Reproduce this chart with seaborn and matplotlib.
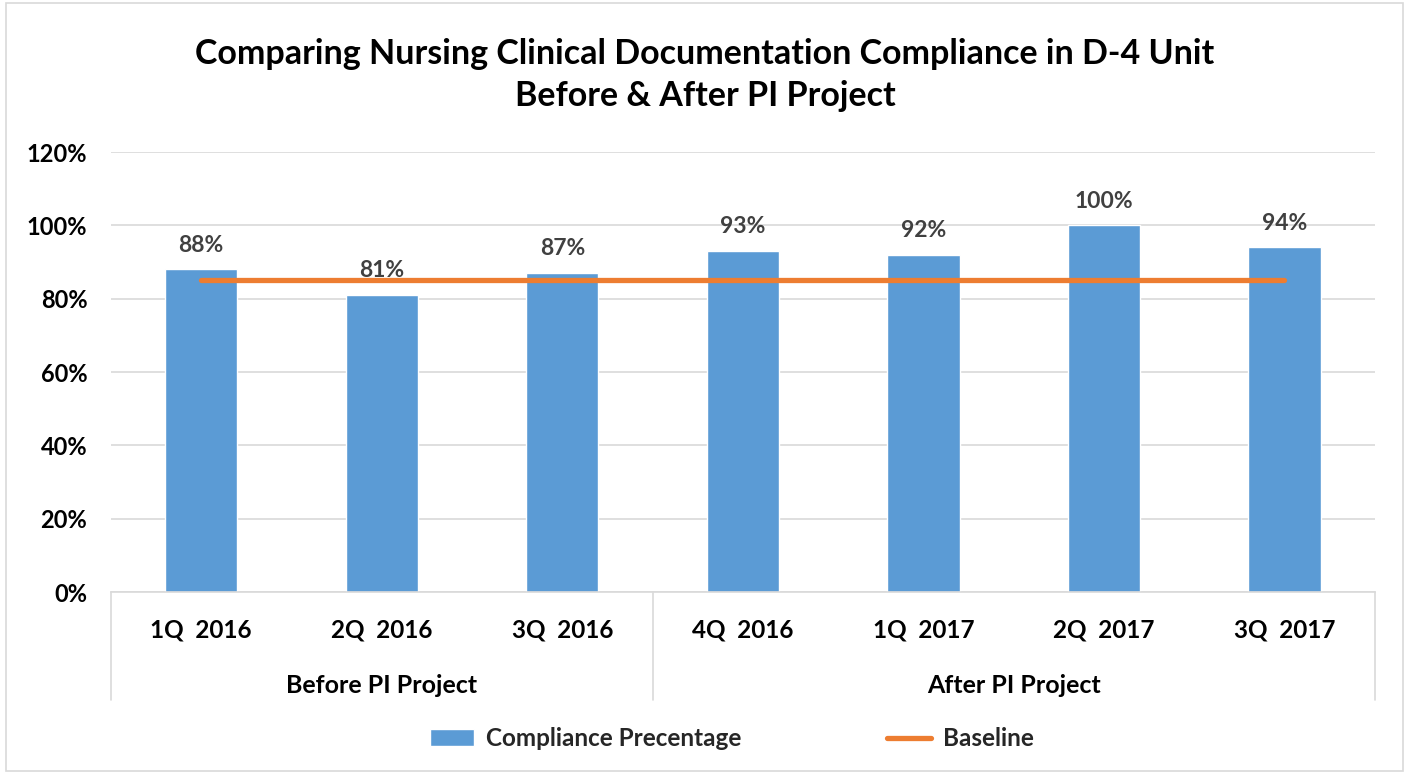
import numpy as np
import pandas as pd
import seaborn as sns
import matplotlib.pyplot as plt
from matplotlib.ticker import PercentFormatter
from matplotlib.patches import Patch, Rectangle
from matplotlib.lines import Line2D

# Daten
quarters = ["1Q  2016", "2Q  2016", "3Q  2016", "4Q  2016", "1Q  2017", "2Q  2017", "3Q  2017"]
compliance = [0.88, 0.81, 0.87, 0.93, 0.92, 1.00, 0.94]
baseline = [0.85, 0.85, 0.85, 0.85, 0.85, 0.85, 0.85]
groups = ["Before PI Project", "After PI Project"]
group_sizes = [3, 4]

BLUE = "#5B9BD5"
ORANGE = "#ED7D31"
GRID = "#D9D9D9"

sns.set_theme(style="white")
plt.rcParams["font.family"] = ["Lato", "DejaVu Sans"]
plt.rcParams["font.weight"] = "bold"

df = pd.DataFrame({"quarter": quarters, "compliance": compliance, "baseline": baseline})

fig = plt.figure(figsize=(14.1, 7.76), dpi=100)
ax = fig.add_axes([0.0787, 0.2371, 0.8963, 0.5669])

sns.barplot(data=df, x="quarter", y="compliance", color=BLUE, width=0.4,
            saturation=1, ax=ax, zorder=2)
sns.lineplot(x=np.arange(len(quarters)), y=baseline, color=ORANGE, linewidth=3.8,
             ax=ax, zorder=3, solid_capstyle="round")

# Datenbeschriftungen
for i, v in enumerate(compliance):
    ax.annotate(f"{v*100:.0f}%", (i, v), xytext=(0, 10), textcoords="offset points",
                ha="center", va="bottom", fontsize=16.5, color="#404040", fontweight="bold")

ax.set_ylim(0, 1.2)
ax.set_xlim(-0.5, len(quarters) - 0.5)
ax.set_yticks(np.arange(0, 1.21, 0.2))
ax.yaxis.set_major_formatter(PercentFormatter(1.0, decimals=0))
ax.grid(axis="y", color=GRID, linewidth=1.2, zorder=0)
ax.set_axisbelow(True)
for s in ["top", "right", "left"]:
    ax.spines[s].set_visible(False)
ax.spines["bottom"].set_color(GRID)
ax.spines["bottom"].set_linewidth(1.2)
ax.tick_params(axis="y", labelsize=17, pad=17, length=0)
ax.tick_params(axis="x", labelsize=17.5, pad=19, length=0)
for lbl in ax.get_xticklabels() + ax.get_yticklabels():
    lbl.set_fontweight("bold")
    lbl.set_color("black")
ax.set_xlabel("")
ax.set_ylabel("")

# Gruppen-Achse
trans = ax.get_xaxis_transform()
edges = np.concatenate([[0], np.cumsum(group_sizes)]) - 0.5
for e in edges:
    ax.plot([e, e], [0, -0.245], transform=trans, color=GRID, linewidth=1.2, clip_on=False)
for g, lo, hi in zip(groups, edges[:-1], edges[1:]):
    ax.text((lo + hi) / 2, -0.212, g, transform=trans, ha="center", va="center",
            fontsize=18, fontweight="bold", color="black")

fig.text(0.5, 0.903, "Comparing Nursing Clinical Documentation Compliance in D-4 Unit\nBefore & After PI Project",
         ha="center", va="center", fontsize=24.5, fontweight="bold", linespacing=1.38, color="black")

handles = [Patch(facecolor=BLUE, label="Compliance Precentage"),
           Line2D([0], [0], color=ORANGE, linewidth=3.8, label="Baseline")]
leg = fig.legend(handles=handles, loc="center", bbox_to_anchor=(0.519, 0.048), ncol=2, frameon=False,
                 prop={"size": 17.5, "weight": "bold"}, columnspacing=6.0, handlelength=1.8,
                 handletextpad=0.5)

fig.patches.append(Rectangle((0.004, 0.006), 0.991, 0.99, transform=fig.transFigure,
                             fill=False, edgecolor=GRID, linewidth=1.2))

fig.savefig("out.png", dpi=100)
